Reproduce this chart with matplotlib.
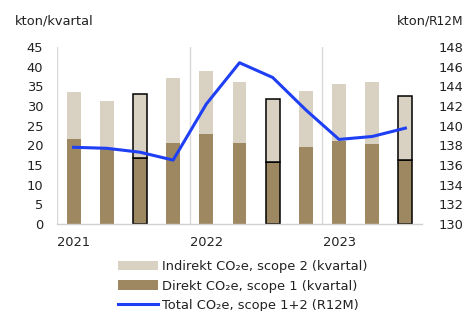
import matplotlib
matplotlib.use("Agg")
import matplotlib.pyplot as plt
import numpy as np
from matplotlib.patches import Patch
from matplotlib.lines import Line2D

plt.rcParams['font.family'] = ['DejaVu Sans']

quarters = ["Q1 2021", "Q2 2021", "Q3 2021", "Q4 2021",
            "Q1 2022", "Q2 2022", "Q3 2022", "Q4 2022",
            "Q1 2023", "Q2 2023", "Q3 2023"]
scope1 = [21.5, 19.1, 16.8, 20.5, 22.8, 20.7, 15.7, 19.5, 21.0, 20.3, 16.3]
total_q = [33.5, 31.2, 33.1, 37.0, 38.8, 36.0, 31.7, 33.7, 35.7, 36.0, 32.5]
scope2 = [t - s for t, s in zip(total_q, scope1)]
r12m = [137.8, 137.7, 137.3, 136.5, 142.2, 146.4, 144.9, 141.6, 138.6, 138.9, 139.75]
highlight = [False, False, True, False, False, False, True, False, False, False, True]
year_labels = ["2021", "2022", "2023"]
year_pos = [0, 4, 8]

c_light = "#d9d2c3"
c_dark = "#9d8862"
c_line = "#1f3ff5"
txt = "#222222"
fs = 9.4

W, H = 465, 311
fig = plt.figure(figsize=(W/100, H/100), dpi=100)
ax = fig.add_axes([57/W, 1-224/H, (422-57)/W, (224-47)/H])

x = np.arange(len(quarters))
bw = 0.42
for i in x:
    ec = "black" if highlight[i] else "none"
    lw = 1.1 if highlight[i] else 0
    ax.bar(i, scope1[i], bw, color=c_dark, edgecolor=ec, linewidth=lw, zorder=2)
    ax.bar(i, scope2[i], bw, bottom=scope1[i], color=c_light, edgecolor=ec, linewidth=lw, zorder=2)

for xv in [-0.5, 3.5, 7.5]:
    ax.axvline(xv, color="#d9d9d9", lw=1, zorder=1)

ax.set_xlim(-0.5, 10.5)
ax.set_ylim(0, 45)
ax.set_yticks(np.arange(0, 46, 5))
ax.set_xticks(year_pos)
ax.set_xticklabels(year_labels)
ax.tick_params(axis='both', length=0, labelsize=fs, colors=txt)
ax.tick_params(axis='y', pad=10)
ax.tick_params(axis='x', pad=9)
for s in ["top", "right", "left"]:
    ax.spines[s].set_visible(False)
ax.spines["bottom"].set_color("#d0d0d0")
ax.spines["bottom"].set_linewidth(1)

ax2 = ax.twinx()
ax2.plot(x, r12m, color=c_line, lw=2.2, zorder=3)
ax2.set_ylim(130, 148)
ax2.set_yticks(np.arange(130, 149, 2))
ax2.tick_params(axis='y', length=0, labelsize=fs, colors=txt, pad=12)
for s in ["top", "right", "left", "bottom"]:
    ax2.spines[s].set_visible(False)

fig.text(15/W, 1-25/H, "kton/kvartal", fontsize=fs, color=txt, va="baseline", ha="left")
t_r = fig.text(463/W, 1-25/H, "R12M", fontsize=fs*0.93, color=txt, va="baseline", ha="right")
fig.canvas.draw()
bb = t_r.get_window_extent()
fig.text((bb.x0 + 2)/W, 1-25/H, "kton/", fontsize=fs, color=txt, va="baseline", ha="right")

handles = [Patch(facecolor=c_light, edgecolor="none"),
           Patch(facecolor=c_dark, edgecolor="none"),
           Line2D([0], [0], color=c_line, lw=2.2)]
labels = ["Indirekt CO\u2082e, scope 2 (kvartal)",
          "Direkt CO\u2082e, scope 1 (kvartal)",
          "Total CO\u2082e, scope 1+2 (R12M)"]
fig.legend(handles, labels, loc="upper left", bbox_to_anchor=(118/W, 1-260/H),
           frameon=False, fontsize=fs, handlelength=3.1, handletextpad=0.3,
           labelspacing=0.5, borderpad=0, borderaxespad=0, labelcolor=txt)

fig.savefig("out.png", dpi=100)
